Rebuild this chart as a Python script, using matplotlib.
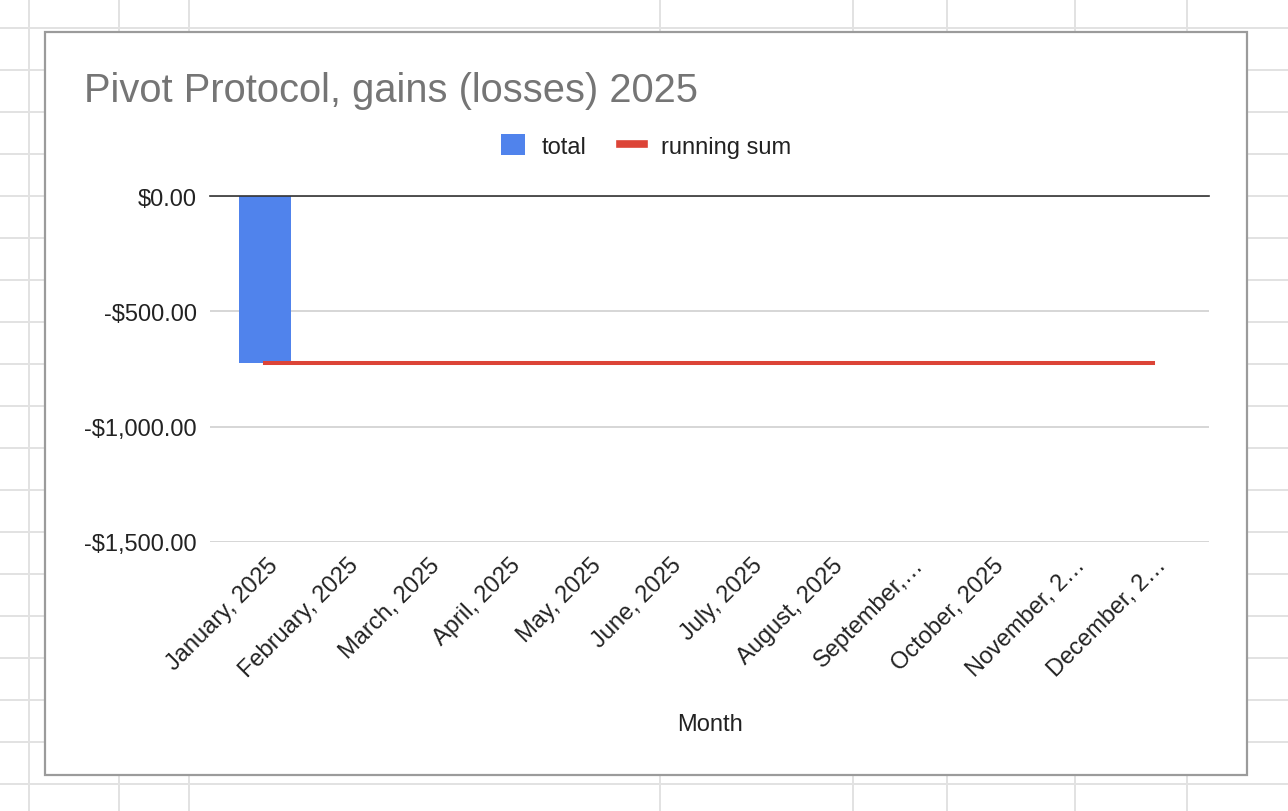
import matplotlib
matplotlib.use("Agg")
import matplotlib.pyplot as plt
import numpy as np
from matplotlib.lines import Line2D
from matplotlib.patches import Patch, Rectangle
from matplotlib.ticker import FuncFormatter
import matplotlib.transforms as mtransforms

months = ["January, 2025", "February, 2025", "March, 2025", "April, 2025",
          "May, 2025", "June, 2025", "July, 2025", "August, 2025",
          "September,…", "October, 2025", "November, 2…", "December, 2…"]
total = [-722, 0, 0, 0, 0, 0, 0, 0, 0, 0, 0, 0]
running_sum = [-722] * 12
y_ticks = [0, -500, -1000, -1500]

W, H = 1288, 812
plt.rcParams['font.family'] = ['Liberation Sans', 'DejaVu Sans']

fig = plt.figure(figsize=(W / 100, H / 100), dpi=100)


def fx(px):
    return px / W


def fy(py):
    return 1 - py / H


# spreadsheet cell grid behind the chart
for px in [29, 119, 189, 660, 853, 947, 1075, 1187]:
    fig.add_artist(Line2D([fx(px), fx(px)], [0, 1], transform=fig.transFigure,
                          color="#e2e2e2", lw=1.4, zorder=-3))
for py in range(29, 800, 42):
    fig.add_artist(Line2D([0, 1], [fy(py), fy(py)], transform=fig.transFigure,
                          color="#e2e2e2", lw=1.4, zorder=-3))

# chart frame
fig.add_artist(Rectangle((fx(45), fy(776)), fx(1247) - fx(45), fy(33) - fy(776),
                         transform=fig.transFigure, facecolor="white",
                         edgecolor="#9b9b9b", lw=1.6, zorder=-2))

ax = fig.add_axes([fx(210), fy(543), fx(1209) - fx(210), fy(197) - fy(543)])
ax.set_facecolor("none")

x = np.arange(len(months))
ax.bar(x, total, width=0.64, color="#5083ec", zorder=2)
ax.plot(x, running_sum, color="#dc4437", lw=2.9, zorder=3)

ax.set_xlim(-0.68, 11.70)
ax.set_ylim(-1500, 0)
ax.set_yticks(y_ticks)
ax.yaxis.set_major_formatter(FuncFormatter(
    lambda v, p: f"-${abs(v):,.2f}" if v < 0 else f"${v:,.2f}"))
ax.yaxis.grid(True, color="#cccccc", lw=1.1)
ax.set_axisbelow(True)
ax.axhline(0, color="#333333", lw=1.2, clip_on=False, zorder=4)

for s in ax.spines.values():
    s.set_visible(False)

ax.set_xticks(x)
ax.set_xticklabels(months, rotation=45, ha="right", va="center",
                   rotation_mode="anchor")
ax.tick_params(axis="both", length=0, labelsize=17, colors="#222222")
ax.tick_params(axis="y", pad=9.5)
ax.tick_params(axis="x", pad=14)
offset = mtransforms.ScaledTranslation(10 / 100, 0, fig.dpi_scale_trans)
for lbl in ax.get_xticklabels():
    lbl.set_transform(lbl.get_transform() + offset)

ax.set_xlabel("Month", fontsize=17, color="#222222", va="center")
ax.xaxis.set_label_coords(0.5, -0.526)

fig.text(fx(84), fy(102), "Pivot Protocol, gains (losses) 2025",
         fontsize=28.7, color="#757575", va="baseline", ha="left")

handles = [Patch(facecolor="#5083ec", edgecolor="none"),
           Line2D([], [], color="#dc4437", lw=5.5)]
fig.legend(handles, ["total", "running sum"], loc="center",
           bbox_to_anchor=(fx(646), fy(147)), ncol=2, frameon=False,
           fontsize=17, handlelength=1.0, handleheight=1.0,
           handletextpad=0.72, columnspacing=1.44, labelcolor="#222222")

fig.savefig("out.png", dpi=100)
